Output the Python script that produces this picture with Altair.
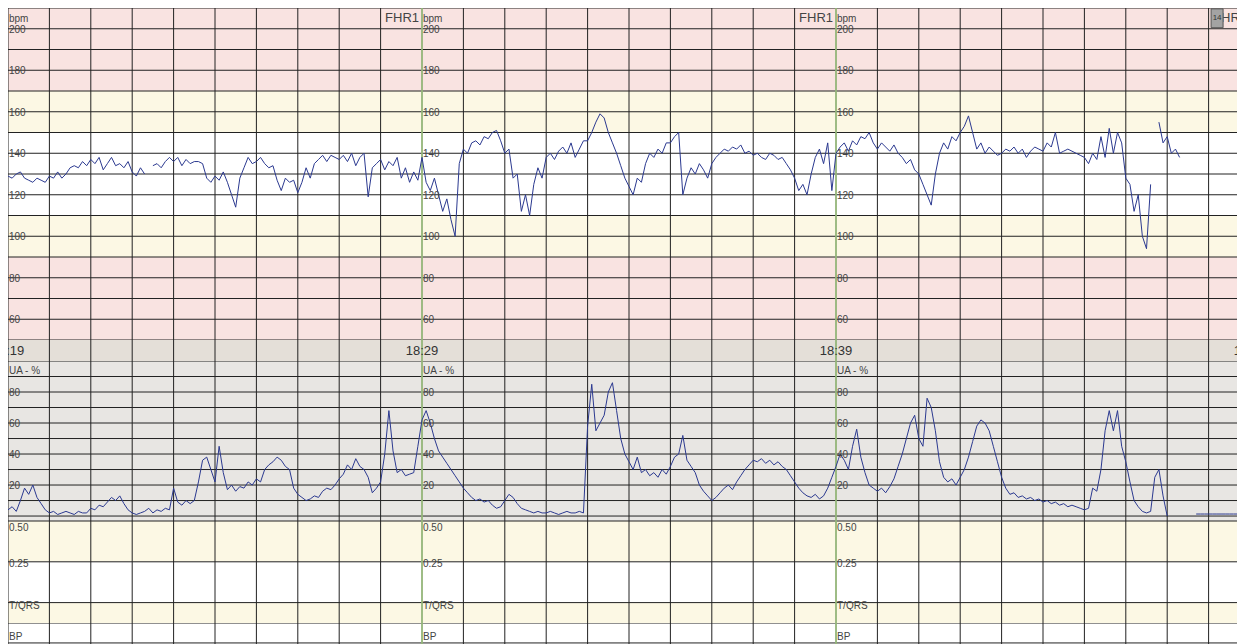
import altair as alt
import pandas as pd

# ---------------- data ----------------
STEP = 0.1  # minutes between samples, starting at 18:19

fhr_bpm = [
    129,128,130,131,128,127,126,128,127,126,
    129,128,131,128,130,133,134,133,136,134,
    137,135,138,132,135,138,134,135,133,136,
    131,129,133,130,None,134,135,133,136,138,
    136,138,134,137,135,136,136,135,128,126,
    129,127,131,126,120,114,128,133,138,135,
    136,138,135,133,134,127,122,128,126,127,
    121,126,133,128,135,137,139,136,139,138,
    137,139,136,140,134,138,140,119,133,135,
    137,132,136,134,138,128,133,126,131,127,
    138,126,122,128,120,112,118,108,100,135,
    142,140,145,146,144,148,147,150,151,146,
    140,142,128,130,112,120,110,125,133,128,
    138,140,137,141,143,140,145,138,142,146,
    146,150,155,159,157,150,145,140,134,128,
    124,120,128,126,135,140,138,142,140,145,
    145,148,150,120,128,133,130,135,132,128,
    135,138,140,142,141,143,142,144,140,141,
    139,140,138,137,140,139,137,138,135,132,
    128,122,125,120,130,138,142,135,145,122,
    140,143,145,141,146,144,148,147,150,145,
    142,145,143,141,144,140,138,135,137,132,
    130,125,120,115,130,140,145,142,148,146,
    150,153,158,150,142,145,140,143,141,139,
    140,142,141,143,140,142,138,141,143,142,
    141,145,143,150,140,141,142,141,140,139,
    138,135,140,137,148,138,152,140,150,145,
    128,125,112,120,100,94,125,None,155,145,
    148,140,142,138,
]

ua_pct = [
    4,6,3,10,18,14,20,12,8,4,
    2,3,1,2,3,2,1,3,2,2,
    5,4,7,6,9,12,10,13,8,4,
    2,1,2,3,5,2,4,3,5,4,
    18,9,7,10,8,10,22,36,38,30,
    22,45,28,17,20,16,19,18,22,20,
    24,22,30,33,35,38,36,32,30,18,
    14,12,10,11,13,12,16,18,17,20,
    24,27,33,30,37,32,30,25,15,18,
    22,40,68,42,28,30,26,27,28,45,
    62,68,60,50,42,38,34,30,26,22,
    18,15,12,10,11,9,10,7,5,6,
    10,14,12,8,5,4,3,2,3,2,
    2,3,2,1,2,3,2,2,3,2,
    58,85,55,60,65,80,86,68,50,40,
    35,30,38,28,30,26,28,25,30,27,
    32,38,40,52,36,32,28,20,16,13,
    10,12,15,18,20,17,22,26,30,33,
    36,35,37,34,36,33,35,32,30,26,
    22,18,15,13,12,14,11,13,18,25,
    32,40,36,30,45,56,38,28,20,18,
    16,18,15,19,24,32,40,50,60,65,
    50,45,76,70,55,35,25,22,24,20,
    25,30,38,48,58,62,60,55,45,35,
    25,18,14,15,12,13,11,12,10,11,
    9,10,8,9,7,8,6,7,6,5,
    4,5,18,16,30,55,68,55,68,45,
    35,22,10,6,3,2,3,25,30,13,
    0,None,None,None,None,None,None,1.3,1.3,1.3,
    1.3,1.3,1.3,1.3,1.3,1.3,1.3,1.3,
]

time_labels = ["18:19", "18:29", "18:39", "18:49"]
time_minutes = [0, 10, 20, 30]
section_starts = [0, 10, 20]
fhr_ticks = [200, 180, 160, 140, 120, 100, 80, 60]
ua_ticks = [80, 60, 40, 20]

# ---------------- layout / style ----------------
PX_PER_MIN = 41.4
W = 1229
XMAX = W / PX_PER_MIN
FONT = "Liberation Sans"
GRID = "#222222"
GREEN = "#a2c884"
TRACE = "#2b3990"
PINK = "#f9e3e1"
YELLOW = "#fcf8e4"
STRIP = "#e4dfd8"
UABG = "#e8e6e3"
LABEL = "#444444"

H_FHR, H_STRIP, H_UA, H_TQ, H_BP = 332, 21, 160, 102, 21

xs = alt.Scale(domain=[0, XMAX], nice=False, zero=False)


def to_segments(values):
    rows, seg = [], 0
    for i, v in enumerate(values):
        if v is None:
            seg += 1
            continue
        rows.append({"m": i * STEP, "v": v, "seg": seg})
    return pd.DataFrame(rows)


minutes_df = pd.DataFrame({"m": [m for m in range(0, 31) if m <= XMAX]})
green_df = pd.DataFrame({"m": [10, 20]})
one = pd.DataFrame({"a": [0]})


def vgrid(ys):
    base = alt.Chart(minutes_df).mark_rule(color=GRID, strokeWidth=1, clip=True).encode(
        x=alt.X("m:Q", scale=xs, axis=None))
    green = alt.Chart(green_df).mark_rule(color=GREEN, strokeWidth=1.6, clip=True).encode(
        x=alt.X("m:Q", scale=xs, axis=None))
    return [base, green]


def hgrid(values, ys):
    return alt.Chart(pd.DataFrame({"v": values})).mark_rule(
        color=GRID, strokeWidth=1, clip=True).encode(y=alt.Y("v:Q", scale=ys, axis=None))


def bands(lo, hi, colors, ys):
    df = pd.DataFrame({"lo": lo, "hi": hi, "c": colors})
    return alt.Chart(df).mark_rect(clip=True).encode(
        x=alt.value(0), x2=alt.value(W),
        y=alt.Y("hi:Q", scale=ys, axis=None), y2="lo:Q",
        color=alt.Color("c:N", scale=None))


def labels(rows, ys, size=10, align="left", dx=1, dy=1, color=LABEL):
    return alt.Chart(pd.DataFrame(rows)).mark_text(
        align=align, baseline="middle", font=FONT, fontSize=size, color=color,
        dx=dx, dy=dy, clip=True).encode(
        x=alt.X("m:Q", scale=xs, axis=None), y=alt.Y("y:Q", scale=ys, axis=None),
        text="t:N")


# ---------------- FHR panel ----------------
ys_fhr = alt.Scale(domain=[50, 210], nice=False, zero=False)
fhr_layers = [
    bands([170, 150, 110, 90, 50], [210, 170, 150, 110, 90],
          [PINK, YELLOW, "#ffffff", YELLOW, PINK], ys_fhr),
    hgrid(list(range(50, 211, 10)), ys_fhr),
    *vgrid(ys_fhr),
    alt.Chart(to_segments(fhr_bpm)).mark_line(color=TRACE, strokeWidth=1, clip=True).encode(
        x=alt.X("m:Q", scale=xs, axis=None), y=alt.Y("v:Q", scale=ys_fhr, axis=None),
        detail="seg:N"),
    labels([{"m": s, "y": t, "t": str(t)} for s in section_starts for t in fhr_ticks]
           + [{"m": s, "y": 205.3, "t": "bpm"} for s in section_starts], ys_fhr),
    labels([{"m": m, "y": 205.3, "t": "FHR1"} for m in [10, 20, 30]], ys_fhr,
           size=13, align="right", dx=-3, dy=0),
    alt.Chart(one).mark_rect(fill="#a3a3a3", stroke="#555555", strokeWidth=1, clip=True).encode(
        x=alt.datum(29.06, scale=xs), x2=alt.datum(29.35),
        y=alt.datum(209.6, scale=ys_fhr), y2=alt.datum(200.5)),
    alt.Chart(one).mark_text(font=FONT, fontSize=8, color="#333333", baseline="middle",
                             align="center", clip=True).encode(
        x=alt.datum(29.205, scale=xs), y=alt.datum(205.0, scale=ys_fhr), text=alt.value("14")),
]
fhr = alt.layer(*fhr_layers).properties(width=W, height=H_FHR)

# ---------------- time strip ----------------
ys_strip = alt.Scale(domain=[0, 1], nice=False, zero=False)
strip = alt.layer(
    alt.Chart(one).mark_rect(color=STRIP).encode(
        x=alt.value(0), x2=alt.value(W), y=alt.value(0), y2=alt.value(H_STRIP)),
    *vgrid(ys_strip),
    labels([{"m": m, "y": 0.5, "t": t} for m, t in zip(time_minutes, time_labels)],
           ys_strip, size=13, align="center", dx=0, dy=0, color="#333333"),
).properties(width=W, height=H_STRIP)

# ---------------- UA panel ----------------
ys_ua = alt.Scale(domain=[-3.2, 100], nice=False, zero=False)
ua = alt.layer(
    alt.Chart(one).mark_rect(color=UABG).encode(
        x=alt.value(0), x2=alt.value(W), y=alt.value(0), y2=alt.value(H_UA)),
    hgrid(list(range(0, 101, 10)) + [-3.2], ys_ua),
    *vgrid(ys_ua),
    alt.Chart(to_segments(ua_pct)).mark_line(color=TRACE, strokeWidth=1, clip=True).encode(
        x=alt.X("m:Q", scale=xs, axis=None), y=alt.Y("v:Q", scale=ys_ua, axis=None),
        detail="seg:N"),
    labels([{"m": s, "y": t, "t": str(t)} for s in section_starts for t in ua_ticks]
           + [{"m": s, "y": 94.3, "t": "UA - %"} for s in section_starts], ys_ua),
).properties(width=W, height=H_UA)

# ---------------- T/QRS panel ----------------
ys_tq = alt.Scale(domain=[-0.125, 0.5], nice=False, zero=False)
tq = alt.layer(
    bands([0.25, 0.0, -0.125], [0.5, 0.25, 0.0], [YELLOW, "#ffffff", YELLOW], ys_tq),
    hgrid([0.5, 0.25, 0.0], ys_tq),
    *vgrid(ys_tq),
    labels([{"m": s, "y": 0.462, "t": "0.50"} for s in section_starts]
           + [{"m": s, "y": 0.245, "t": "0.25"} for s in section_starts]
           + [{"m": s, "y": -0.012, "t": "T/QRS"} for s in section_starts], ys_tq),
).properties(width=W, height=H_TQ)

# ---------------- BP panel ----------------
ys_bp = alt.Scale(domain=[0, 1], nice=False, zero=False)
bp = alt.layer(
    alt.Chart(one).mark_rect(color="#ffffff").encode(
        x=alt.value(0), x2=alt.value(W), y=alt.value(0), y2=alt.value(H_BP)),
    hgrid([1.0, 0.05], ys_bp),
    *vgrid(ys_bp),
    labels([{"m": s, "y": 0.38, "t": "BP"} for s in section_starts], ys_bp),
).properties(width=W, height=H_BP)

chart = alt.vconcat(fhr, strip, ua, tq, bp, spacing=0, padding=0, bounds="flush").configure_view(
    stroke=None)

chart.save("out.html", embed_options={"renderer": "svg", "actions": False})
